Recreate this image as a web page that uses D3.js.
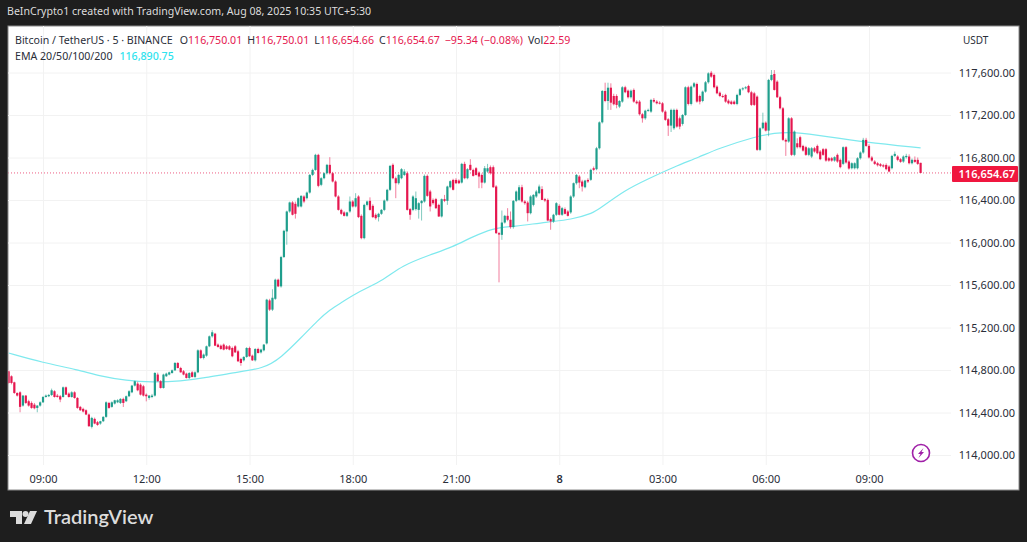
<!DOCTYPE html>
<html>
<head>
<meta charset="utf-8">
<script src="https://cdn.jsdelivr.net/npm/d3@7/dist/d3.min.js"></script>
<style>
  html, body { margin: 0; padding: 0; background: #1e1e1e; }
  svg { display: block; }
  text { font-family: "Noto Sans", sans-serif; }
</style>
</head>
<body>
<svg id="chart" width="1027" height="542"></svg>
<script>
// Five-minute BTC/USDT candles, each row [open, high, low, close].
const sessionMorning = [
[114788,114800,114670,114678],[114741,114750,114665,114678],[114684,114690,114575,114584],[114584,114590,114550,114559],[114590,114600,114402,114453],
[114465,114565,114455,114559],[114559,114565,114480,114490],[114506,114520,114455,114465],[114490,114505,114435,114443],[114474,114490,114430,114440],
[114443,114470,114402,114465],[114465,114505,114455,114496],[114496,114555,114490,114546],[114546,114570,114540,114559],[114553,114575,114545,114565],
[114565,114625,114555,114609],[114600,114610,114540,114546],[114559,114575,114540,114546],[114553,114565,114497,114522],[114546,114645,114540,114637],
[114637,114645,114565,114568],[114578,114590,114540,114546],[114546,114600,114540,114590],[114590,114600,114530,114537],[114537,114545,114435,114443],
[114453,114462,114415,114421],[114434,114445,114400,114409],[114421,114430,114375,114381],[114381,114390,114265,114271],[114265,114360,114250,114349],
[114340,114352,114290,114296],[114309,114320,114275,114283],[114296,114322,114285,114318],[114318,114365,114310,114359],[114359,114505,114350,114496],
[114490,114500,114435,114443],[114453,114505,114445,114496],[114484,114520,114475,114515],[114496,114525,114488,114515],[114490,114535,114480,114528],
[114528,114540,114452,114490],[114506,114560,114498,114553],[114553,114610,114545,114600],[114590,114660,114582,114653],[114653,114700,114645,114694],
[114672,114690,114600,114609],[114662,114675,114560,114568],[114647,114660,114550,114559],[114568,114580,114505,114553],[114537,114565,114520,114559],
[114546,114575,114535,114559],[114559,114780,114550,114772],[114757,114775,114690,114694],[114694,114705,114625,114631],[114631,114765,114625,114757],
[114741,114775,114735,114766],[114757,114785,114750,114778],[114772,114805,114765,114797],[114797,114875,114790,114866],[114866,114875,114815,114819],
[114819,114830,114775,114778],[114788,114800,114750,114757],[114766,114775,114720,114725],[114725,114780,114715,114772],[114778,114790,114730,114735],
[114735,114788,114725,114778],[114778,114995,114770,114985],[114985,114995,114905,114913],[114913,114955,114900,114945],[114935,115030,114925,115023],
[115023,115125,115015,115117],[115117,115175,115105,115155],[115142,115150,115025,115029],[115039,115050,115010,115017],[115029,115040,114990,114998],
[115039,115050,114985,114992],[115023,115035,114990,114998],[115023,115035,114985,114992],[115007,115020,114920,114929],[115023,115035,114960,114966],
[114976,114990,114875,114882],[114904,114915,114840,114866],[114891,114930,114880,114923],[114923,115015,114915,115007],[115007,115020,114925,114929],
[114935,114945,114885,114891],[114891,115005,114880,114998],[114998,115010,114955,114960],[114966,115000,114955,114992],[114985,115045,114975,115039]
];
const sessionAfternoon = [
[115050,115470,115040,115462],[115455,115470,115355,115368],[115368,115560,115355,115480],[115470,115660,115460,115650],[115650,115660,115580,115587],
[115587,115875,115575,115863],[115863,116120,115855,116110],[116104,116300,115979,116292],[116292,116385,116280,116377],[116377,116390,116255,116261],
[116364,116385,116225,116270],[116339,116425,116330,116417],[116339,116445,116330,116439],[116433,116445,116370,116386],[116417,116480,116405,116470],
[116470,116645,116460,116636],[116636,116695,116625,116683],[116683,116835,116675,116825],[116825,116835,116520,116533],[116543,116615,116530,116605],
[116605,116660,116595,116652],[116652,116740,116640,116731],[116731,116803,116640,116652],[116652,116665,116565,116574],[116574,116585,116425,116433],
[116433,116445,116300,116307],[116307,116318,116260,116270],[116283,116295,116245,116251],[116251,116290,116240,116283],[116292,116433,116280,116386],
[116386,116400,116330,116339],[116339,116464,116330,116417],[116433,116445,116230,116239],[116251,116265,116030,116041],[116041,116365,116030,116354],
[116354,116395,116340,116386],[116392,116425,116300,116307],[116345,116360,116230,116239],[116261,116275,116215,116229],[116239,116280,116198,116270],
[116270,116315,116260,116307],[116307,116405,116295,116395],[116395,116505,116385,116496],[116496,116730,116485,116721],[116731,116745,116595,116605],
[116605,116620,116417,116558],[116558,116645,116545,116636],[116605,116700,116595,116690],[116636,116690,116625,116668],[116652,116670,116300,116307],
[116314,116325,116214,116261],[116307,116445,116295,116433],[116314,116480,116300,116417],[116307,116380,116225,116370],[116370,116400,116207,116392],
[116386,116640,116375,116627],[116627,116640,116430,116439],[116480,116496,116292,116339],[116401,116415,116355,116370],[116408,116420,116315,116323],
[116354,116365,116240,116245],[116245,116415,116235,116408],[116408,116448,116380,116392],[116392,116535,116354,116527],[116520,116585,116510,116577],
[116589,116600,116490,116496],[116589,116605,116550,116558],[116583,116595,116550,116558],[116564,116750,116555,116740],[116740,116760,116595,116605],
[116605,116700,116595,116690],[116731,116784,116675,116683],[116683,116695,116620,116627],[116699,116710,116630,116636],[116658,116670,116511,116621],
[116636,116650,116511,116564],[116564,116720,116555,116699],[116668,116740,116655,116699],[116709,116725,116640,116652],[116709,116725,116515,116520],
[116527,116540,116080,116088],[116088,116100,115625,116075]
];
const sessionOvernight = [
[116072,116301,116025,116188],[116188,116260,116178,116251],[116251,116323,116200,116214],[116214,116292,116130,116145],[116145,116400,116130,116392],
[116392,116490,116380,116480],[116401,116540,116390,116520],[116520,116543,116375,116386],[116386,116400,116355,116370],[116376,116390,116198,116276],
[116276,116445,116265,116433],[116354,116455,116340,116448],[116433,116495,116420,116480],[116464,116545,116455,116527],[116502,116530,116400,116401],
[116408,116420,116380,116395],[116401,116415,116200,116207],[116220,116235,116120,116198],[116198,116270,116185,116261],[116261,116380,116250,116370],
[116345,116360,116255,116261],[116261,116335,116250,116323],[116314,116330,116265,116270],[116292,116305,116245,116251],[116283,116445,116270,116433],
[116433,116565,116420,116558],[116558,116645,116545,116636],[116621,116635,116511,116564],[116574,116590,116480,116527],[116520,116590,116510,116583],
[116589,116605,116560,116574],[116590,116695,116580,116684],[116699,116715,116670,116684],[116690,116900,116680,116887],[116887,117140,116875,117131],
[117131,117435,117120,117426],[117426,117504,117320,117332],[117332,117504,117248,117457],[117457,117498,117248,117316],[117379,117400,117290,117301],
[117379,117395,117263,117295],[117279,117340,117265,117332],[117326,117472,117315,117461],[117461,117475,117405,117414],[117429,117440,117355,117367],
[117367,117440,117355,117429],[117436,117450,117315,117326],[117326,117340,117300,117310],[117326,117340,117195,117207],[117207,117220,117128,117169],
[117169,117250,117155,117241],[117241,117260,117230,117248],[117232,117352,117220,117342],[117342,117360,117315,117326],[117326,117340,117300,117310],
[117316,117330,117300,117310],[117310,117322,117222,117232],[117232,117245,117145,117154],[117160,117172,117003,117100],[117100,117260,117040,117248],
[117075,117260,117060,117248],[117248,117260,117080,117091],[117169,117185,117066,117091],[117116,117210,117100,117200],[117200,117470,117190,117461],
[117461,117475,117290,117304],[117304,117478,117290,117467],[117467,117510,117455,117498],[117492,117505,117315,117326],[117379,117392,117300,117326],
[117332,117430,117320,117420],[117420,117520,117410,117508],[117508,117602,117495,117592],[117598,117615,117550,117561],[117577,117590,117450,117461],
[117467,117480,117395,117404],[117410,117422,117368,117379],[117379,117395,117360,117373],[117389,117400,117315,117326],[117335,117348,117300,117310],
[117326,117338,117295,117304],[117326,117338,117295,117304],[117304,117400,117292,117389],[117389,117452,117378,117442],[117442,117462,117430,117451],
[117451,117472,117442,117461],[117473,117485,117405,117414],[117414,117428,117285,117295],[117404,117418,117285,117295],[117373,117385,116862,116872],
[116872,117085,116860,117075],[117075,117222,117065,117128],[117128,117140,117045,117053],[117053,117540,117000,117530],[117530,117623,117518,117577],
[117586,117623,117430,117436]
];
const sessionLate = [
[117514,117527,117360,117367],[117367,117380,117252,117263],[117263,117275,116955,116966],[116966,116980,116815,116950],[116950,117180,116938,117169],
[117169,117180,116815,116825],[116825,117055,116812,117044],[116934,116981,116885,116897],[116991,117005,116885,116897],[116909,116920,116855,116865],
[116897,116910,116815,116825],[116825,116898,116812,116887],[116809,116898,116795,116887],[116887,116900,116845,116856],[116909,116922,116830,116840],
[116856,116870,116775,116784],[116878,116890,116815,116825],[116878,116890,116760,116771],[116793,116805,116760,116771],[116793,116805,116760,116771],
[116771,116812,116760,116803],[116825,116838,116750,116762],[116778,116790,116698,116709],[116740,116905,116728,116897],[116897,116908,116742,116753],
[116762,116775,116685,116696],[116699,116755,116688,116746],[116699,116755,116688,116746],[116699,116803,116688,116793],[116793,116858,116780,116847],
[116847,116985,116835,116966],[116966,116985,116900,116909],[116909,116925,116790,116800],[116800,116815,116760,116771],[116762,116775,116730,116740],
[116746,116758,116715,116727],[116737,116748,116710,116721],[116727,116740,116705,116715],[116730,116745,116680,116690],[116715,116728,116660,116668],
[116699,116825,116688,116815],[116815,116856,116805,116834],[116809,116822,116765,116778],[116784,116795,116750,116759],[116762,116820,116750,116809],
[116803,116835,116790,116815],[116809,116830,116735,116746],[116746,116790,116735,116778],[116778,116810,116750,116759],[116778,116800,116730,116740],
[116750.01,116750.01,116654.67,116654.67]
];

// EMA readings: candle number and level at that candle.
const emaBars = [0,12,24,32,41,50,60,69,78,89,95,102,108,112,116,122,131,137,147,155,161,169,176,188,196,204,206,215,223,232,241,247,260,267,274,286,298,318];
const emaValues = [114960,114869,114803,114741,114700,114684,114694,114728,114775,114813,114916,115104,115273,115367,115433,115537,115649,115781,115884,115960,116044,116138,116148,116195,116213,116279,116317,116495,116599,116712,116806,116881,116994,117031,117041,116994,116947,116890.75];

const priceTicks = [114000,114400,114800,115200,115600,116000,116400,116800,117200,117600];
const timeTickBars = [12,48,84,120,156,192,228,264,300];
const timeTickLabels = ["09:00","12:00","15:00","18:00","21:00","8","03:00","06:00","09:00"];
const lastPrice = 116654.67;

const candles = [...sessionMorning, ...sessionAfternoon, ...sessionOvernight, ...sessionLate]
  .map(([open, high, low, close], bar) => ({ bar, open, high, low, close }));

const GREEN = "#1f9e8c", RED = "#e5174f", CYAN = "#7fe9ee";
const panel = { left: 8, top: 26, right: 1019, bottom: 490, gridRight: 951 };

const svg = d3.select("#chart");
const x = d3.scaleLinear().domain([0, 318]).range([8.6, 920.6]);
const y = d3.scaleLinear().domain([114000, 117600]).range([455, 72.5]);

// Dark frame and white plot surface
svg.append("rect").attr("width", 1027).attr("height", 542).attr("fill", "#1e1e1e");
svg.append("rect")
  .attr("x", panel.left).attr("y", panel.top)
  .attr("width", panel.right - panel.left).attr("height", panel.bottom - panel.top)
  .attr("fill", "#fff").attr("stroke", "#8a8a8a").attr("stroke-width", 1);

svg.append("text").attr("x", 7).attr("y", 15).attr("font-size", 10.6).attr("fill", "#dcdcdc")
  .text("BeInCrypto1 created with TradingView.com, Aug 08, 2025 10:35 UTC+5:30");

// Grid and tick labels come from the two axes
const yAxis = d3.axisRight(y)
  .tickValues(priceTicks)
  .tickSize(panel.gridRight - panel.left)
  .tickFormat(d3.format(",.2f"));
const yG = svg.append("g").attr("transform", `translate(${panel.left},0)`).call(yAxis);
yG.select(".domain").remove();
yG.selectAll(".tick line").attr("stroke", "#f2f2f2");
yG.selectAll(".tick text")
  .attr("x", 1015 - panel.left).attr("text-anchor", "end")
  .attr("font-size", 11).attr("fill", "#2a2e39")
  .style("font-family", '"Noto Sans", sans-serif');

const xAxis = d3.axisBottom(x)
  .tickValues(timeTickBars)
  .tickSize(465 - panel.top)
  .tickFormat((d, i) => timeTickLabels[i]);
const xG = svg.append("g").attr("transform", `translate(0,${panel.top})`).call(xAxis);
xG.select(".domain").remove();
xG.selectAll(".tick line").attr("stroke", "#f2f2f2");
xG.selectAll(".tick text")
  .attr("y", 457).attr("dy", 0)
  .attr("font-size", 11).attr("fill", "#2a2e39")
  .style("font-family", '"Noto Sans", sans-serif')
  .attr("font-weight", (d, i) => timeTickLabels[i] === "8" ? 600 : 400);

svg.append("defs").append("clipPath").attr("id", "plot")
  .append("rect").attr("x", panel.left + 0.5).attr("y", panel.top)
  .attr("width", panel.gridRight - panel.left).attr("height", panel.bottom - panel.top);

const plot = svg.append("g").attr("clip-path", "url(#plot)");

// Dotted marker at the last traded price
plot.append("line")
  .attr("x1", panel.left).attr("x2", panel.gridRight)
  .attr("y1", y(lastPrice)).attr("y2", y(lastPrice))
  .attr("stroke", RED).attr("stroke-width", 1).attr("stroke-opacity", 0.7).attr("stroke-dasharray", "1 2");

// EMA curve
const emaLine = d3.line()
  .x((d, i) => x(emaBars[i]))
  .y(d => y(d))
  .curve(d3.curveBasis);
plot.append("path").datum(emaValues)
  .attr("fill", "none").attr("stroke", CYAN).attr("stroke-width", 1.2)
  .attr("d", emaLine);

// Candles: wick, then body
const colorOf = d => d.close >= d.open ? GREEN : RED;
const groups = plot.selectAll("g.candle").data(candles).join("g").attr("class", "candle");
groups.append("line")
  .attr("x1", d => x(d.bar)).attr("x2", d => x(d.bar))
  .attr("y1", d => y(d.high)).attr("y2", d => y(d.low))
  .attr("stroke", colorOf).attr("stroke-width", 0.8).attr("stroke-opacity", 0.7);
groups.append("rect")
  .attr("x", d => x(d.bar) - 1.1)
  .attr("width", 2.2)
  .attr("y", d => y(Math.max(d.open, d.close)))
  .attr("height", d => Math.max(1, Math.abs(y(d.open) - y(d.close))))
  .attr("fill", colorOf);

// Legend lines
const legend = svg.append("g").attr("font-size", 10.6);
const row1 = legend.append("text").attr("x", 15).attr("y", 44).attr("fill", "#2a2e39");
row1.append("tspan").text("Bitcoin / TetherUS · 5 · BINANCE");
[["O", "116,750.01"], ["H", "116,750.01"], ["L", "116,654.66"], ["C", "116,654.67"]].forEach(([k, v], i) => {
  row1.append("tspan").attr("dx", i === 0 ? 7 : 5).text(k);
  row1.append("tspan").attr("fill", RED).text(v);
});
row1.append("tspan").attr("dx", 5).attr("fill", RED).text("−95.34 (−0.08%)");
row1.append("tspan").attr("dx", 5).text("Vol");
row1.append("tspan").attr("fill", RED).text("22.59");

const row2 = legend.append("text").attr("x", 15).attr("y", 60).attr("fill", "#2a2e39");
row2.append("tspan").text("EMA 20/50/100/200");
row2.append("tspan").attr("dx", 7).attr("fill", "#2fe3ee").attr("font-weight", 500).text(d3.format(",.2f")(emaValues[emaValues.length - 1]));

svg.append("text").attr("x", 963).attr("y", 44).attr("font-size", 10).attr("fill", "#2a2e39").text("USDT");

// Last price tag on the scale
svg.append("rect").attr("x", 952).attr("y", y(lastPrice) - 7).attr("width", 66).attr("height", 16).attr("rx", 1).attr("fill", "#f0173f");
svg.append("text").attr("x", 1015).attr("y", y(lastPrice) + 5).attr("text-anchor", "end")
  .attr("font-size", 11).attr("font-weight", 600).attr("fill", "#fff").text(d3.format(",.2f")(lastPrice));

// Lightning badge
const badge = svg.append("g").attr("transform", "translate(921,453)");
badge.append("circle").attr("r", 8.5).attr("fill", "#fff").attr("stroke", "#a020a8").attr("stroke-width", 1.6);
badge.append("path").attr("d", "M2.5,-5 L-3,1 L-0.5,1 L-2.5,5 L3,-1 L0.5,-1 Z").attr("fill", "#a020a8");

// Brand mark and wordmark in the footer
const logo = svg.append("g").attr("fill", "#dcdcdc");
logo.append("path").attr("d", "M10,511 H22 V524 H16 V517 H10 Z");
logo.append("circle").attr("cx", 25.5).attr("cy", 514).attr("r", 3);
logo.append("path").attr("d", "M30,511 H37 L31,524 H24 Z");
svg.append("text").attr("x", 44).attr("y", 524).attr("font-size", 20).attr("font-weight", 600)
  .attr("fill", "#dcdcdc").style("font-family", "Lato, sans-serif").text("TradingView");
</script>
</body>
</html>
